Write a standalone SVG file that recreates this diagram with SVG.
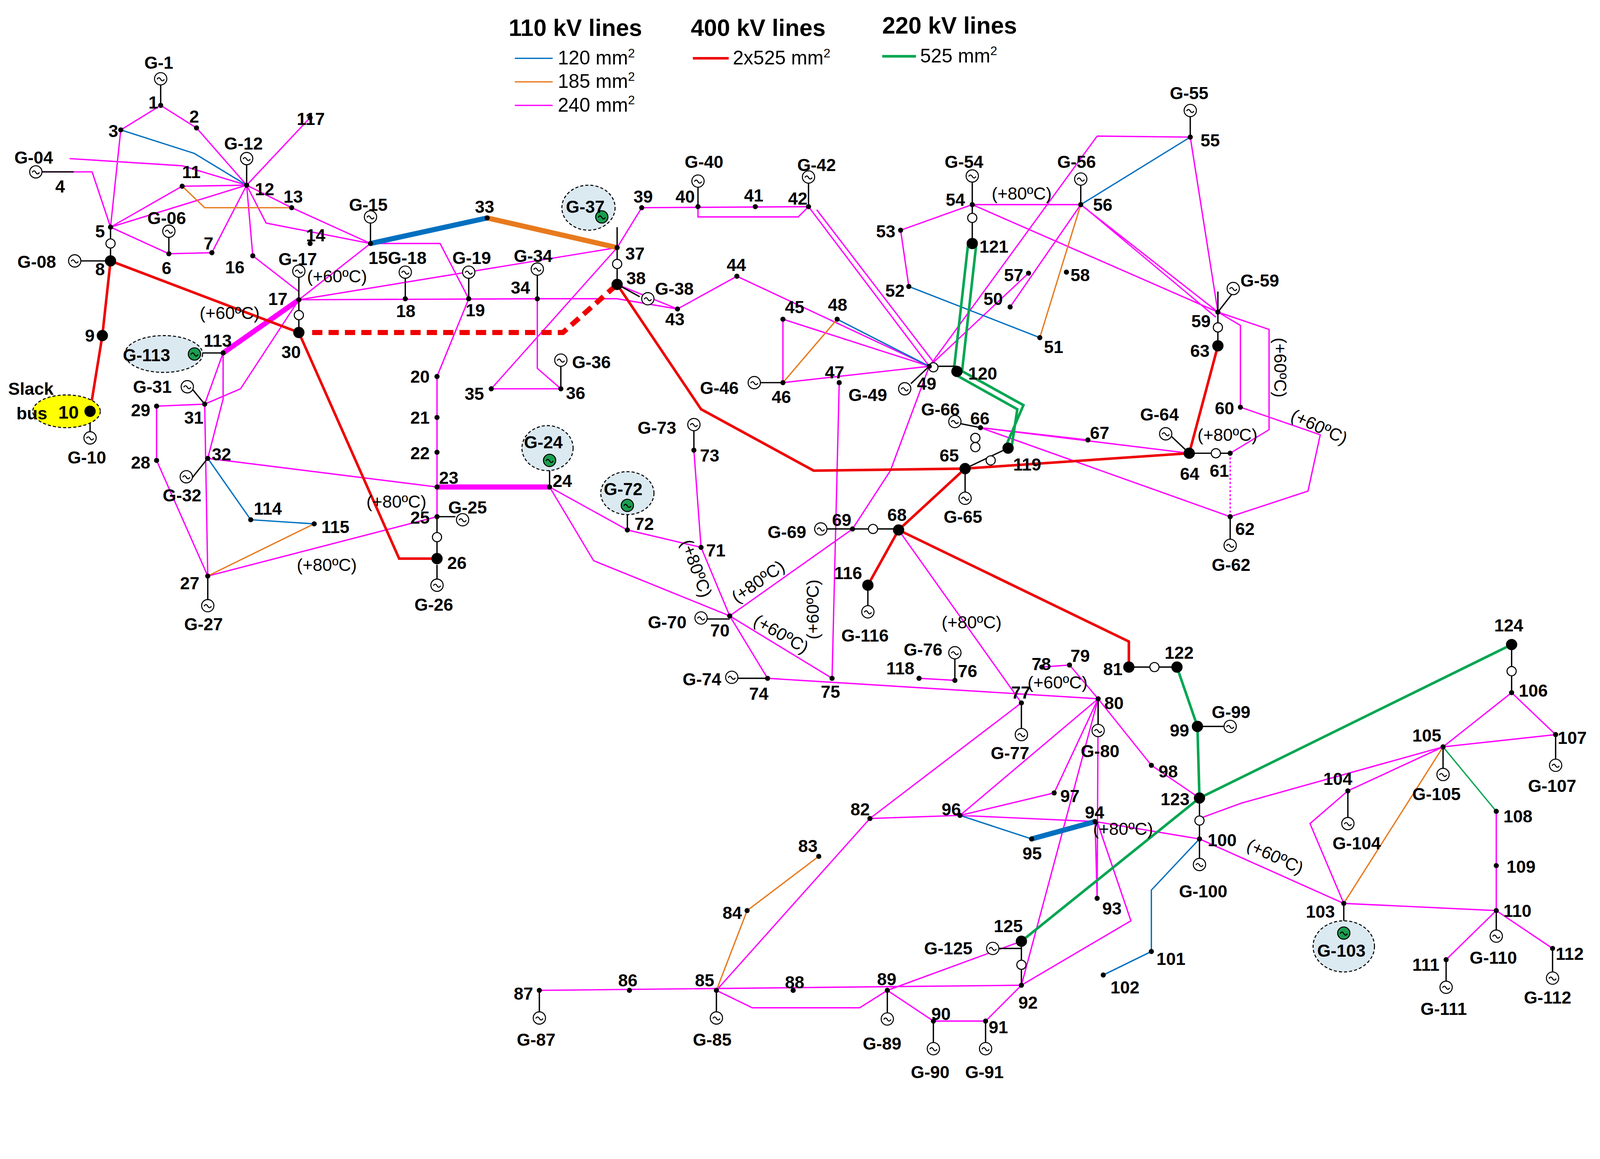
<svg xmlns="http://www.w3.org/2000/svg" width="4355" height="2968" viewBox="0 0 4355 2968">
<defs>
<style>
text{font-family:"Liberation Sans",Arial,sans-serif;font-weight:bold;font-size:17px;fill:#000}
.n{font-weight:normal}
.m{stroke:#f0f;stroke-width:1.3;fill:none}
.b{stroke:#0070c0;stroke-width:1.3;fill:none}
.o{stroke:#e87a1e;stroke-width:1.3;fill:none}
.gr{stroke:#00a651;stroke-width:2.5;fill:none}
.r{stroke:#e00;stroke-width:2.5;fill:none}
.k{stroke:#000;stroke-width:1.3;fill:none}
.d{fill:#000}
.hl{fill:#dbe9f1;stroke:#000;stroke-dasharray:3,2;stroke-width:1}
</style>
<g id="g"><circle r="6" fill="#fff" stroke="#000" stroke-width="1"/><path d="M-3.5,0.5 q1.75,-3 3.5,0 t3.5,0" fill="none" stroke="#000" stroke-width="1"/></g>
<g id="gg"><circle r="6" fill="#1a9e50" stroke="#000" stroke-width="1"/><path d="M-3.5,0.5 q1.75,-3 3.5,0 t3.5,0" fill="none" stroke="#000" stroke-width="1"/></g>
<g id="t"><circle r="4.5" fill="#fff" stroke="#000" stroke-width="1"/></g>
</defs>
<rect width="4355" height="2968" fill="#fff"/>
<g transform="scale(2.62)">
<g id="legend">
<text x="497" y="35" style="font-size:23px">110 kV lines</text>
<text x="675" y="35" style="font-size:23px">400 kV lines</text>
<text x="862" y="33" style="font-size:23px">220 kV lines</text>
<path class="b" d="M503,57H540"/><text class="n" x="545" y="63" style="font-size:19px">120 mm<tspan dy="-7" style="font-size:12px">2</tspan></text>
<path class="o" d="M503,80H540"/><text class="n" x="545" y="86" style="font-size:19px">185 mm<tspan dy="-7" style="font-size:12px">2</tspan></text>
<path class="m" d="M503,103H540"/><text class="n" x="545" y="109" style="font-size:19px">240 mm<tspan dy="-7" style="font-size:12px">2</tspan></text>
<path class="r" d="M677,57H712"/><text class="n" x="716" y="63" style="font-size:19px">2x525 mm<tspan dy="-7" style="font-size:12px">2</tspan></text>
<path class="gr" d="M862,55H895"/><text class="n" x="899" y="61" style="font-size:19px">525 mm<tspan dy="-7" style="font-size:12px">2</tspan></text>
</g>
<g id="connectors">
<path class="m" d="M157,103L118,127M157,103L192,125L241,181M118,127L108,222M68,155L178,162L241,181M40,168L90,168L108,222M108,222L178,182M108,222L241,181M178,182L241,181M108,222L165,248L207,247L241,181M241,181L303,115M241,181L285,203M241,181L260,218L362,238M241,181L247,250L292,285M285,203L362,238M362,238L292,293M362,238L430,238L458,292M292,293L525,292L603,292L662,302M292,293L235,380L200,395M292,293L603,242M218,345L218,390L203,448M218,345L200,395M153,397L200,395M153,397L153,450L203,563M200,395L203,563M203,448L427,476M203,563L427,505M458,292L427,368L427,505M603,242L480,380L548,380M525,292L525,360L548,380M537,476L613,518L685,535M537,476L580,548L713,602M685,535L678,440M685,535L713,602L833,517M713,602L750,663M713,602L813,663M603,242L627,203L790,202M682,202L682,212L780,212L790,202M790,202L908,358M798,205L913,355M603,278L662,302L720,270L908,358M765,312L765,374L908,358M765,312L908,358M820,374L813,663M908,358L870,460L833,517M880,225L950,200L1056,200M880,225L888,280M950,200L1190,305M1163,134L1190,305M1056,200L1190,305M1060,203L1188,310M1056,200L987,300M1072,133L1163,134M1072,133L908,358M1005,267L908,358M1190,305L1212,318L1212,398M1190,305L1240,322L1240,420L1202,443M1212,398L1290,425L1278,480L1202,505M958,418L1202,505M958,418L1162,443M958,418L1063,430M878,518L998,687M750,663L1073,683M898,663L933,665M1018,652L1045,650L1073,683M998,687L850,800L700,968M1073,683L938,797M1073,683L1030,775L938,797M1073,683L998,963M1073,683L1072,878M1073,683L1125,748L1172,780M938,797L1070,803M1070,803L1172,820L1313,883M1070,803L1072,878M527,968L998,963M700,968L735,985L840,985L867,968L912,998L963,998L998,963M867,968L998,920M998,963L1105,900L1072,803M1313,883L1462,890M1313,883L1280,805L1317,773L1410,730M1410,730L1477,677L1520,718L1410,730M1410,730L1213,785L1172,800M1462,793L1462,890M1462,890L1413,938M1462,890L1517,927M850,800L938,797"/>
<path class="m" d="M1202,443V505" stroke-dasharray="2,2"/>
<path class="m" d="M218,345L292,293" style="stroke-width:5"/>
<path class="m" d="M427,476H537" style="stroke-width:5"/>
<path class="b" d="M118,127L190,150L241,181M203,448L245,508L307,512M888,280L1016,330M1056,200L1163,134M818,312L908,358M938,797L1008,820M1172,820L1125,870L1125,930L1078,953"/>
<path class="b" d="M362,238L476,213" style="stroke-width:5"/>
<path class="b" d="M1008,820L1070,803" style="stroke-width:5"/>
<path class="o" d="M178,182L200,203L285,203M203,563L307,512M765,374L818,312M1016,330L1056,200M700,968L730,890L800,837M1313,883L1410,730"/>
<path class="o" d="M476,213L603,242" style="stroke-width:5"/>
<path class="gr" style="stroke-width:1.3" d="M1410,730L1462,793"/>
<path class="gr" d="M932,362L946,238M940,363L954,238M935,360L1000,396L982,438M935,367L994,400L988,440M1150,652L1170,710L1172,780M998,920L1172,780L1477,630"/>
<path class="r" d="M108,255L100,328L88,402M108,255L292,325M292,325L390,546L427,546M603,278L685,400L795,460L943,458L1162,443L1190,338M943,458L878,518L848,572M878,518L1103,627L1103,652"/>
<path class="r" d="M305,325H550L603,278" style="stroke-width:5;stroke-dasharray:10,6"/>
<path class="k" d="M157,77V103M108,222V255M41,168H72M79,255H108M165,228V248M241,160V181M362,218V238M292,270V325M396,272V292M458,272V292M525,268V292M603,222V278L625,290M548,358V380M218,345H196M200,395L186,378M427,505V546M427,552V566M427,505H445M203,563V590M187,468L203,448M682,183V202M790,178V202M1163,114V134M678,420V440M613,495V518M808,517H878M690,605H713M720,663H750M743,374H765M890,375L908,358M933,643V665M950,178V238M1056,180V200M908,358H935M943,458V485M943,458L985,438M938,414L958,418M1162,443H1202M1143,425L1162,443M1190,285V338M1208,282L1190,305M1202,505V530M848,572V596M1103,652H1150M998,687V715M1073,683V712M1170,710H1200M998,920V963M975,927H998M1172,780V843M1317,773V803M1410,730V755M1477,630V677M1520,718V745M1313,883V910M1413,938V962M1462,890V912M1517,927V953M867,968V993M912,998V1022M963,998V1022M700,968V993M527,968V993M537,476V456M88,402V422"/>
</g>
<g id="trafos">
<use href="#t" x="108" y="238"/><use href="#t" x="292" y="308"/><use href="#t" x="603" y="258"/><use href="#t" x="427" y="525"/><use href="#t" x="950" y="213"/><use href="#t" x="912" y="359"/><use href="#t" x="1190" y="320"/><use href="#t" x="1188" y="443"/><use href="#t" x="953" y="437"/><use href="#t" x="968" y="450"/><use href="#t" x="953" y="428"/><use href="#t" x="853" y="517"/><use href="#t" x="1128" y="652"/><use href="#t" x="1172" y="802"/><use href="#t" x="998" y="943"/><use href="#t" x="1477" y="656"/>
</g>
<g id="gens">
<use href="#g" x="157" y="77"/><use href="#g" x="35" y="168"/><use href="#g" x="165" y="226"/><use href="#g" x="241" y="155"/><use href="#g" x="362" y="212"/><use href="#g" x="73" y="255"/><use href="#g" x="292" y="265"/><use href="#g" x="396" y="266"/><use href="#g" x="458" y="266"/><use href="#g" x="525" y="263"/><use href="#g" x="633" y="292"/><use href="#g" x="548" y="352"/><use href="#g" x="183" y="378"/><use href="#g" x="182" y="466"/><use href="#g" x="203" y="592"/><use href="#g" x="452" y="508"/><use href="#g" x="427" y="572"/><use href="#g" x="88" y="428"/><use href="#g" x="678" y="415"/><use href="#g" x="682" y="177"/><use href="#g" x="790" y="173"/><use href="#g" x="950" y="172"/><use href="#g" x="1056" y="175"/><use href="#g" x="1163" y="108"/><use href="#g" x="1205" y="282"/><use href="#g" x="737" y="374"/><use href="#g" x="884" y="380"/><use href="#g" x="933" y="412"/><use href="#g" x="943" y="487"/><use href="#g" x="1139" y="424"/><use href="#g" x="1202" y="533"/><use href="#g" x="802" y="517"/><use href="#g" x="685" y="604"/><use href="#g" x="848" y="598"/><use href="#g" x="715" y="662"/><use href="#g" x="933" y="638"/><use href="#g" x="998" y="718"/><use href="#g" x="1073" y="714"/><use href="#g" x="1202" y="710"/><use href="#g" x="970" y="927"/><use href="#g" x="1172" y="845"/><use href="#g" x="1317" y="805"/><use href="#g" x="1410" y="757"/><use href="#g" x="1520" y="748"/><use href="#g" x="1462" y="915"/><use href="#g" x="1413" y="965"/><use href="#g" x="1517" y="956"/><use href="#g" x="867" y="996"/><use href="#g" x="912" y="1025"/><use href="#g" x="963" y="1025"/><use href="#g" x="700" y="995"/><use href="#g" x="527" y="995"/>
<ellipse class="hl" cx="160" cy="346" rx="38" ry="18"/><use href="#gg" x="190" y="346"/>
<ellipse class="hl" cx="575" cy="203" rx="26" ry="22"/><use href="#gg" x="588" y="212"/>
<ellipse class="hl" cx="535" cy="438" rx="25" ry="22"/><use href="#gg" x="537" y="450"/>
<ellipse class="hl" cx="613" cy="482" rx="26" ry="21"/><use href="#gg" x="613" y="494"/>
<ellipse class="hl" cx="1313" cy="925" rx="30" ry="25"/><use href="#gg" x="1313" y="912"/>
<ellipse cx="65" cy="402" rx="33" ry="16" fill="#ffff00" stroke="#000" stroke-dasharray="3,2"/>
</g>
<g id="nodes">
<g class="d">
<circle cx="157" cy="103" r="2.5"/><circle cx="192" cy="125" r="2.5"/><circle cx="118" cy="127" r="2.5"/><circle cx="108" cy="222" r="2.5"/><circle cx="165" cy="248" r="2.5"/><circle cx="207" cy="247" r="2.5"/><circle cx="178" cy="182" r="2.5"/><circle cx="241" cy="181" r="2.5"/><circle cx="285" cy="203" r="2.5"/><circle cx="303" cy="238" r="2.5"/><circle cx="362" cy="238" r="2.5"/><circle cx="247" cy="250" r="2.5"/><circle cx="292" cy="293" r="2.5"/><circle cx="396" cy="292" r="2.5"/><circle cx="458" cy="292" r="2.5"/><circle cx="427" cy="368" r="2.5"/><circle cx="427" cy="408" r="2.5"/><circle cx="427" cy="442" r="2.5"/><circle cx="427" cy="476" r="2.5"/><circle cx="537" cy="476" r="2.5"/><circle cx="427" cy="505" r="2.5"/><circle cx="203" cy="563" r="2.5"/><circle cx="153" cy="450" r="2.5"/><circle cx="153" cy="397" r="2.5"/><circle cx="200" cy="395" r="2.5"/><circle cx="203" cy="448" r="2.5"/><circle cx="218" cy="345" r="2.5"/><circle cx="245" cy="508" r="2.5"/><circle cx="307" cy="512" r="2.5"/><circle cx="303" cy="115" r="2.5"/><circle cx="476" cy="213" r="2.5"/><circle cx="525" cy="292" r="2.5"/><circle cx="480" cy="380" r="2.5"/><circle cx="548" cy="380" r="2.5"/><circle cx="603" cy="242" r="2.5"/><circle cx="627" cy="203" r="2.5"/><circle cx="682" cy="202" r="2.5"/><circle cx="738" cy="202" r="2.5"/><circle cx="790" cy="202" r="2.5"/><circle cx="662" cy="302" r="2.5"/><circle cx="720" cy="270" r="2.5"/><circle cx="765" cy="312" r="2.5"/><circle cx="765" cy="374" r="2.5"/><circle cx="820" cy="374" r="2.5"/><circle cx="818" cy="312" r="2.5"/><circle cx="908" cy="358" r="2.5"/><circle cx="987" cy="300" r="2.5"/><circle cx="1016" cy="330" r="2.5"/><circle cx="888" cy="280" r="2.5"/><circle cx="880" cy="225" r="2.5"/><circle cx="950" cy="200" r="2.5"/><circle cx="1163" cy="134" r="2.5"/><circle cx="1056" cy="200" r="2.5"/><circle cx="1005" cy="267" r="2.5"/><circle cx="1042" cy="266" r="2.5"/><circle cx="1190" cy="305" r="2.5"/><circle cx="1212" cy="398" r="2.5"/><circle cx="1202" cy="443" r="2.5"/><circle cx="1202" cy="505" r="2.5"/><circle cx="958" cy="418" r="2.5"/><circle cx="1063" cy="430" r="2.5"/><circle cx="833" cy="517" r="2.5"/><circle cx="713" cy="602" r="2.5"/><circle cx="685" cy="535" r="2.5"/><circle cx="613" cy="518" r="2.5"/><circle cx="678" cy="440" r="2.5"/><circle cx="750" cy="663" r="2.5"/><circle cx="813" cy="663" r="2.5"/><circle cx="933" cy="665" r="2.5"/><circle cx="898" cy="663" r="2.5"/><circle cx="998" cy="687" r="2.5"/><circle cx="1018" cy="652" r="2.5"/><circle cx="1045" cy="650" r="2.5"/><circle cx="1073" cy="683" r="2.5"/><circle cx="850" cy="800" r="2.5"/><circle cx="800" cy="837" r="2.5"/><circle cx="730" cy="890" r="2.5"/><circle cx="700" cy="968" r="2.5"/><circle cx="615" cy="968" r="2.5"/><circle cx="527" cy="968" r="2.5"/><circle cx="775" cy="968" r="2.5"/><circle cx="867" cy="968" r="2.5"/><circle cx="912" cy="998" r="2.5"/><circle cx="963" cy="998" r="2.5"/><circle cx="998" cy="963" r="2.5"/><circle cx="1072" cy="878" r="2.5"/><circle cx="1070" cy="803" r="2.5"/><circle cx="1008" cy="820" r="2.5"/><circle cx="938" cy="797" r="2.5"/><circle cx="1030" cy="775" r="2.5"/><circle cx="1125" cy="748" r="2.5"/><circle cx="1172" cy="820" r="2.5"/><circle cx="1125" cy="930" r="2.5"/><circle cx="1078" cy="953" r="2.5"/><circle cx="1313" cy="883" r="2.5"/><circle cx="1317" cy="773" r="2.5"/><circle cx="1410" cy="730" r="2.5"/><circle cx="1477" cy="677" r="2.5"/><circle cx="1520" cy="718" r="2.5"/><circle cx="1462" cy="793" r="2.5"/><circle cx="1462" cy="846" r="2.5"/><circle cx="1462" cy="890" r="2.5"/><circle cx="1413" cy="938" r="2.5"/><circle cx="1517" cy="927" r="2.5"/>
<circle cx="108" cy="255" r="5.5"/><circle cx="100" cy="328" r="5.5"/><circle cx="88" cy="402" r="5.5"/><circle cx="292" cy="325" r="5.5"/><circle cx="427" cy="546" r="5.5"/><circle cx="603" cy="278" r="5.5"/><circle cx="1190" cy="338" r="5.5"/><circle cx="1162" cy="443" r="5.5"/><circle cx="943" cy="458" r="5.5"/><circle cx="878" cy="518" r="5.5"/><circle cx="848" cy="572" r="5.5"/><circle cx="1103" cy="652" r="5.5"/><circle cx="1150" cy="652" r="5.5"/><circle cx="1170" cy="710" r="5.5"/><circle cx="1172" cy="780" r="5.5"/><circle cx="1477" cy="630" r="5.5"/><circle cx="998" cy="920" r="5.5"/><circle cx="985" cy="438" r="5.5"/><circle cx="935" cy="363" r="5.5"/><circle cx="950" cy="238" r="5.5"/>
</g>
</g>
<g id="labels">
<text x="141" y="67">G-1</text><text x="145" y="106">1</text><text x="185" y="120">2</text><text x="106" y="134">3</text><text x="14" y="160">G-04</text><text x="54" y="188">4</text><text x="93" y="232">5</text><text x="158" y="268">6</text><text x="199" y="244">7</text><text x="17" y="262">G-08</text><text x="93" y="269">8</text><text x="83" y="334">9</text><text x="57" y="409" style="font-size:18px">10</text><text x="8" y="386">Slack</text><text x="16" y="410">bus</text><text x="66" y="453">G-10</text><text x="178" y="174">11</text><text x="249" y="191">12</text><text x="277" y="198">13</text><text x="219" y="146">G-12</text><text x="290" y="122">117</text><text x="144" y="219">G-06</text><text x="220" y="267">16</text><text x="299" y="236">14</text><text x="341" y="206">G-15</text><text x="360" y="258">15</text><text x="379" y="258">G-18</text><text x="387" y="310">18</text><text x="272" y="259">G-17</text><text x="300" y="276" class="n">(+60ºC)</text><text x="262" y="298">17</text><text x="195" y="312" class="n">(+60ºC)</text><text x="442" y="258">G-19</text><text x="455" y="309">19</text><text x="464" y="208">33</text><text x="120" y="353">G-113</text><text x="199" y="339">113</text><text x="275" y="350">30</text><text x="130" y="384">G-31</text><text x="128" y="407">29</text><text x="180" y="414">31</text><text x="128" y="458">28</text><text x="207" y="450">32</text><text x="159" y="490">G-32</text><text x="248" y="503">114</text><text x="314" y="521">115</text><text x="176" y="576">27</text><text x="180" y="616">G-27</text><text x="290" y="558" class="n">(+80ºC)</text><text x="358" y="496" class="n">(+80ºC)</text><text x="401" y="374">20</text><text x="401" y="414">21</text><text x="401" y="449">22</text><text x="429" y="473">23</text><text x="540" y="476">24</text><text x="512" y="438">G-24</text><text x="438" y="502">G-25</text><text x="401" y="512">25</text><text x="437" y="556">26</text><text x="405" y="597">G-26</text><text x="502" y="256">G-34</text><text x="499" y="287">34</text><text x="454" y="391">35</text><text x="553" y="390">36</text><text x="559" y="360">G-36</text><text x="553" y="208">G-37</text><text x="611" y="254">37</text><text x="612" y="278">38</text><text x="640" y="288">G-38</text><text x="619" y="198">39</text><text x="650" y="318">43</text><text x="660" y="198">40</text><text x="669" y="164">G-40</text><text x="727" y="197">41</text><text x="770" y="200">42</text><text x="779" y="167">G-42</text><text x="710" y="265">44</text><text x="767" y="306">45</text><text x="809" y="304">48</text><text x="684" y="385">G-46</text><text x="754" y="394">46</text><text x="806" y="370">47</text><text x="829" y="392">G-49</text><text x="896" y="381">49</text><text x="923" y="164">G-54</text><text x="924" y="201">54</text><text x="969" y="195" class="n">(+80ºC)</text><text x="1033" y="164">G-56</text><text x="1068" y="206">56</text><text x="1143" y="97">G-55</text><text x="1173" y="143">55</text><text x="856" y="232">53</text><text x="865" y="290">52</text><text x="961" y="298">50</text><text x="981" y="275">57</text><text x="1046" y="275">58</text><text x="1020" y="345">51</text><text x="957" y="247">121</text><text x="946" y="371">120</text><text x="1212" y="280">G-59</text><text x="1164" y="320">59</text><text x="1163" y="349">63</text><text x="1187" y="405">60</text><text x="1182" y="466">61</text><text x="1153" y="469">64</text><text x="1114" y="411">G-64</text><text x="1170" y="431" class="n">(+80ºC)</text><text x="1207" y="523">62</text><text x="1184" y="558">G-62</text><text x="1065" y="429">67</text><text x="900" y="406">G-66</text><text x="948" y="415">66</text><text x="918" y="451">65</text><text x="990" y="460">119</text><text x="922" y="511">G-65</text><text x="623" y="424">G-73</text><text x="684" y="451">73</text><text x="590" y="484">G-72</text><text x="620" y="518">72</text><text x="690" y="544">71</text><text x="750" y="526">G-69</text><text x="813" y="514">69</text><text x="867" y="509">68</text><text x="815" y="566">116</text><text x="822" y="627">G-116</text><text x="633" y="614">G-70</text><text x="694" y="622">70</text><text x="667" y="670">G-74</text><text x="732" y="684">74</text><text x="802" y="682">75</text><text x="883" y="641">G-76</text><text x="866" y="659">118</text><text x="936" y="662">76</text><text x="920" y="614" class="n">(+80ºC)</text><text x="1008" y="655">78</text><text x="1046" y="647">79</text><text x="1004" y="673" class="n">(+60ºC)</text><text x="988" y="683">77</text><text x="968" y="742">G-77</text><text x="1079" y="693">80</text><text x="1056" y="740">G-80</text><text x="1078" y="660">81</text><text x="1138" y="644">122</text><text x="1184" y="702">G-99</text><text x="1143" y="720">99</text><text x="1132" y="760">98</text><text x="1134" y="787">123</text><text x="1180" y="827">100</text><text x="1152" y="877">G-100</text><text x="1036" y="784">97</text><text x="1060" y="800">94</text><text x="1068" y="816" class="n">(+80ºC)</text><text x="999" y="840">95</text><text x="920" y="797">96</text><text x="831" y="797">82</text><text x="780" y="833">83</text><text x="706" y="898">84</text><text x="679" y="964">85</text><text x="677" y="1022">G-85</text><text x="604" y="964">86</text><text x="502" y="977">87</text><text x="505" y="1022">G-87</text><text x="767" y="966">88</text><text x="857" y="963">89</text><text x="843" y="1026">G-89</text><text x="910" y="997">90</text><text x="966" y="1010">91</text><text x="890" y="1054">G-90</text><text x="943" y="1054">G-91</text><text x="995" y="986">92</text><text x="1077" y="894">93</text><text x="971" y="911">125</text><text x="903" y="933">G-125</text><text x="1130" y="943">101</text><text x="1085" y="971">102</text><text x="1460" y="617">124</text><text x="1484" y="681">106</text><text x="1522" y="727">107</text><text x="1493" y="774">G-107</text><text x="1380" y="725">105</text><text x="1380" y="782">G-105</text><text x="1293" y="767">104</text><text x="1302" y="830">G-104</text><text x="1469" y="804">108</text><text x="1472" y="853">109</text><text x="1469" y="896">110</text><text x="1436" y="942">G-110</text><text x="1380" y="949">111</text><text x="1388" y="992">G-111</text><text x="1520" y="938">112</text><text x="1489" y="981">G-112</text><text x="1276" y="897">103</text><text x="1287" y="935">G-103</text>
<text x="1217" y="830" class="n" transform="rotate(25 1217 830)">(+60ºC)</text>
<text x="1260" y="410" class="n" transform="rotate(25 1260 410)">(+60ºC)</text>
<text x="1245" y="330" class="n" transform="rotate(90 1245 330)">(+60ºC)</text>
<text x="665" y="530" class="n" transform="rotate(70 665 530)">(+80ºC)</text>
<text x="720" y="590" class="n" transform="rotate(-35 720 590)">(+80ºC)</text>
<text x="735" y="610" class="n" transform="rotate(30 735 610)">(+60ºC)</text>
<text x="800" y="625" class="n" transform="rotate(-90 800 625)">(+60ºC)</text>
</g>
</g>
</svg>
